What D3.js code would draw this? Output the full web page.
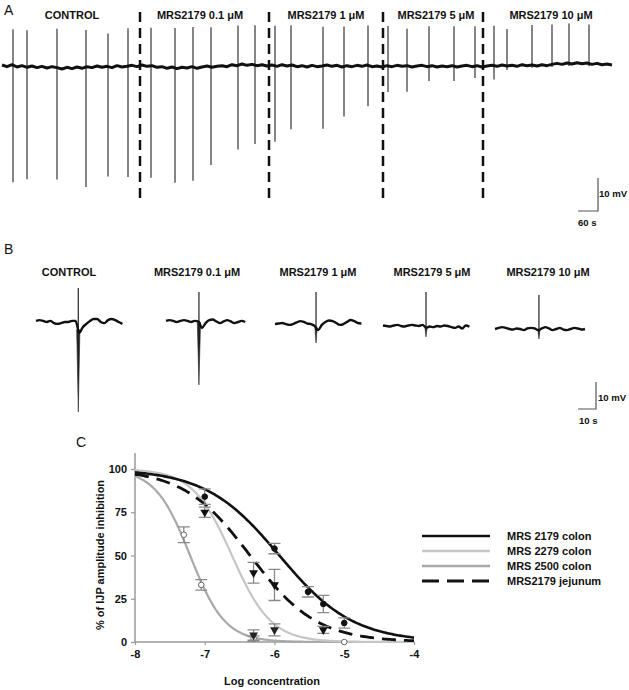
<!DOCTYPE html>
<html><head><meta charset="utf-8">
<script src="https://cdn.jsdelivr.net/npm/d3@7"></script>
<style>body{margin:0;background:#fff} text{font-family:"Liberation Sans",Arial,sans-serif}</style>
</head><body><svg id="c" width="629" height="690"></svg>
<script>
// ---------------- DATA ----------------
const conditionLabels = ["CONTROL","MRS2179 0.1 \u03bcM","MRS2179 1 \u03bcM","MRS2179 5 \u03bcM","MRS2179 10 \u03bcM"];
// Panel A: continuous recording, baseline (mV) every 15 s
const baselineA = [0.3,-0.2,0.4,-0.3,0.1,-0.4,0.0,-0.5,-0.1,-0.6,-0.2,-0.5,-0.9,-0.4,-0.8,-0.3,-0.7,-0.2,-0.5,0.0,
 -0.4,-0.1,-0.5,0.1,-0.3,-0.1,0.2,-0.2,0.3,-0.1,0.1,-0.4,-0.2,-0.7,-0.3,-0.8,-0.4,-0.6,-0.2,-0.7,
 -0.3,0.0,-0.4,-0.1,0.1,-0.2,0.4,0.1,0.6,0.2,0.5,0.1,0.4,0.0,0.3,-0.1,0.4,0.0,0.3,-0.2,
 0.1,-0.3,0.2,-0.2,0.0,0.3,-0.1,0.2,-0.3,0.1,-0.2,0.2,-0.1,0.3,-0.2,0.0,-0.3,0.1,-0.2,0.2,
 -0.1,0.1,-0.3,0.0,0.2,-0.2,0.1,-0.3,0.0,-0.2,0.1,-0.3,0.0,0.2,-0.2,0.1,-0.3,0.0,0.2,-0.1,
 0.3,0.0,0.2,-0.1,0.4,0.1,0.3,0.0,0.4,0.1,0.5,0.8,0.5,0.9,0.6,1.0,0.7,0.9,0.5,0.8,
 0.4,0.6,0.3];
const spikeTimesA = [33,75,165,252,318,378,447,519,573,627,708,759,819,867,963,1026,1098,1158,1215,1281,1356,1419,1476,1515,1590,1650,1701,1761];
const spikeUpA = [10.9,11.2,11.8,11.2,10.0,11.5,11.5,12.1,12.1,12.1,12.1,12.1,12.1,12.1,11.8,12.1,12.1,12.1,11.2,12.1,12.1,12.1,12.1,11.2,12.1,12.1,12.1,11.8];
const spikeDownA = [35.5,33.9,33.9,36.4,33.3,33.6,33.9,34.8,34.5,29.7,25.5,23.9,23.0,19.4,19.1,15.2,12.4,7.9,7.9,4.5,4.5,3.6,4.2,1.2,0.8,0.8,0.8,0.8];
const drugOnsetA = [414,801,1143,1443];
// Panel B: single IJPs, mV every 2 s
const traceB = [
 [0.4,0.7,0.4,0,0.4,-0.4,-0.7,-0.4,0,0,0.4,0.4,-4,-1.9,-0.7,0.4,1.1,1.1,0,-0.4,0.7,1.1,0.7,0,-0.7],
 [0.4,0.7,0.4,0,0.4,0.7,0.4,0,0.4,0.2,-2.2,-0.4,0.7,0.9,0.2,-0.4,0.2,0.7,0.2,-0.4,0,0.4,0],
 [-0.4,-0.2,0,-0.4,-0.7,-0.4,0.2,0.7,0.4,-0.2,-0.4,-1.1,-2.6,-0.7,0.4,0.9,0.7,0,-0.7,-0.4,0.4,1.1,0.7,0,-0.2],
 [0.2,0,-0.2,0.2,0.4,0,-0.2,0.2,0.4,0.2,0,0.4,-0.6,-0.2,-0.4,0,-0.2,0.2,0,-0.4,-0.7,-0.2,-0.9,0.2,-0.2],
 [0,0.4,0.7,0.4,0,-0.2,0.2,0,-0.4,0.2,0.4,0.2,-0.4,0.2,0.7,0.2,-0.4,0,0.4,-0.2,-0.4,0,0.4,0.2,-0.2,0]
];
const spikeTimeB = [23.5,18.3,22.8,23.9,24.4];
const spikeUpB = [12.6,11.1,11.5,12.6,12.6];
const spikeDownB = [-33.3,-23.3,-7.4,-4.0,-3.7];
// Panel C: concentration-response
const logTicks = [-8,-7,-6,-5,-4];
const pctTicks = [0,25,50,75,100];
const seriesNames = ["MRS 2179 colon","MRS 2279 colon","MRS 2500 colon","MRS2179 jejunum"];
const fitLogIC50 = [-5.93,-6.61,-7.21,-6.35];
const fitHill = [0.82,1.54,1.73,0.91];
const colon2179X = [-7,-6,-5.52,-5.3,-5], colon2179Y = [84,54,29,22,11], colon2179E = [4.5,3,3,5,3];
const colon2279X = [-6.3,-6], colon2279Y = [4,7], colon2279E = [3,3.5];
const colon2500X = [-7.3,-7.05,-6.3,-5], colon2500Y = [62,33,2,0], colon2500E = [4.5,3,1.5,0];
const jejunumX = [-7,-6.3,-6,-5.3], jejunumY = [75,40,33,7], jejunumE = [3,6,9,2];

// ---------------- STYLE / LAYOUT ----------------
const svg = d3.select("#c");
const FONT = "Liberation Sans, Arial, sans-serif";
function label(x,y,t,opt={}) {
  return svg.append("text").attr("x",x).attr("y",y).text(t)
    .attr("font-size",opt.size||11).attr("font-weight",opt.weight||"bold")
    .attr("text-anchor",opt.anchor||"middle").attr("fill","#111");
}

// ---- Panel A ----
label(4,15,"A",{size:14,weight:"normal",anchor:"start"});
const xA = d3.scaleLinear().domain([0,1830]).range([2,612]);
const yA = d3.scaleLinear().domain([0,10]).range([66,33]);
const labelXA = [72,200,326,436,551];
conditionLabels.forEach((t,i)=>label(labelXA[i],19,t));
const baseA = d3.line().x((d,i)=>xA(i*15)).y(d=>yA(d));
function baseAt(t){const i=t/15, i0=Math.floor(i), f=i-i0; const a=baselineA[i0]||0, b=baselineA[i0+1]??a; return a+(b-a)*f;}
svg.append("g").selectAll("line").data(spikeTimesA).join("line")
  .attr("x1",d=>xA(d)).attr("x2",d=>xA(d))
  .attr("y1",(d,i)=>yA(baseAt(d)+spikeUpA[i]))
  .attr("y2",(d,i)=>yA(baseAt(d)-spikeDownA[i]))
  .attr("stroke","#444").attr("stroke-width",1.3);
svg.append("path").datum(baselineA).attr("d",baseA).attr("fill","none")
  .attr("stroke","#111").attr("stroke-width",3).attr("stroke-linejoin","round");
svg.append("g").selectAll("line").data(drugOnsetA).join("line")
  .attr("x1",d=>xA(d)).attr("x2",d=>xA(d)).attr("y1",12).attr("y2",200)
  .attr("stroke","#111").attr("stroke-width",2.5).attr("stroke-dasharray","10,6");
// scale bar A
{
  const x0=598, y0=211;
  svg.append("path").attr("d",`M${x0-(xA(60)-xA(0))},${y0}H${x0}V${y0-(yA(0)-yA(10))}`)
    .attr("fill","none").attr("stroke","#555").attr("stroke-width",1.2);
  label(599,197,"10 mV",{size:9.6,anchor:"start"});
  label(578,226,"60 s",{size:9.6,anchor:"start"});
}

// ---- Panel B ----
label(4,254,"B",{size:14,weight:"normal",anchor:"start"});
const labelXB = [69,197,318,432,548];
conditionLabels.forEach((t,i)=>label(labelXB[i],276,t));
const xB = d3.scaleLinear().domain([0,10]).range([0,18]);
const yB = d3.scaleLinear().domain([0,10]).range([0,-27]);
const snipOrigin = [[36,322],[166,322],[275,323],[383,326],[495,329]];
traceB.forEach((tr,k)=>{
  const [ox,oy] = snipOrigin[k];
  const g = svg.append("g").attr("transform",`translate(${ox},${oy})`);
  const ts = spikeTimeB[k];
  const i0 = Math.floor(ts/2), f=(ts/2)-i0;
  const bv = tr[i0]+(tr[i0+1]-tr[i0])*f;
  g.append("line").attr("x1",xB(ts)).attr("x2",xB(ts)).attr("y1",yB(bv)).attr("y2",yB(spikeUpB[k]))
    .attr("stroke","#333").attr("stroke-width",1.3);
  const w = k<2?1.6:1.1;
  g.append("path").attr("d",`M${xB(ts)-w},${yB(bv)}L${xB(ts)+w},${yB(bv)}L${xB(ts)},${yB(spikeDownB[k])}Z`)
    .attr("fill","#222").attr("stroke","#222").attr("stroke-width",0.6);
  g.append("path").datum(tr).attr("d",d3.line().x((d,i)=>xB(i*2)).y(d=>yB(d)).curve(d3.curveMonotoneX))
    .attr("fill","none").attr("stroke","#111").attr("stroke-width",2.4).attr("stroke-linejoin","round");
});
{
  const x0=596, y0=409;
  svg.append("path").attr("d",`M${x0-(xB(10)-xB(0))},${y0}H${x0}V${y0+yB(10)}`)
    .attr("fill","none").attr("stroke","#555").attr("stroke-width",1.2);
  label(598,401,"10 mV",{size:9.6,anchor:"start"});
  label(579,424,"10 s",{size:9.6,anchor:"start"});
}

// ---- Panel C ----
label(76,447,"C",{size:14,weight:"normal",anchor:"start"});
const xC = d3.scaleLinear().domain([-8,-4]).range([135,414]);
const yC = d3.scaleLinear().domain([0,100]).range([642,469]);
const axisCol = "#9a9a9a";
const gy = svg.append("g").attr("transform","translate(135,0)")
  .call(d3.axisLeft(yC).tickValues(pctTicks).tickSize(4).tickPadding(4).tickFormat(d=>String(d)));
const gx = svg.append("g").attr("transform","translate(0,642)")
  .call(d3.axisBottom(xC).tickValues(logTicks).tickSize(3).tickPadding(5).tickFormat(d=>String(d)));
[gx,gy].forEach(g=>{
  g.select(".domain").remove();
  g.selectAll(".tick line").attr("stroke",axisCol).attr("stroke-width",1.2);
  g.selectAll(".tick text").attr("font-size",11).attr("font-weight","bold").attr("fill","#111").attr("font-family",FONT);
});
svg.append("line").attr("x1",135).attr("x2",135).attr("y1",yC(100)-16).attr("y2",yC(0))
  .attr("stroke",axisCol).attr("stroke-width",1.5);
svg.append("line").attr("x1",135).attr("x2",xC(-4)).attr("y1",yC(0)).attr("y2",yC(0))
  .attr("stroke",axisCol).attr("stroke-width",1.5);
label(272,685,"Log concentration");
svg.append("text").attr("transform","translate(104,555) rotate(-90)").attr("text-anchor","middle")
  .attr("font-size",11).attr("font-weight","bold").attr("fill","#111").text("% of IJP amplitude inhibition");

const seriesColor = ["#111","#c6c6c6","#a9a9a9","#111"];
const seriesWidth = [2.6,2.2,2.2,2.8];
const seriesDash = [null,null,null,"14,8"];
const xs = d3.range(-8,-3.995,0.02);
const curveLine = d3.line().x(d=>xC(d[0])).y(d=>yC(d[1]));
[2,1,0,3].forEach(k=>{
  const pts = xs.map(x=>[x,100/(1+Math.pow(10,(x-fitLogIC50[k])*fitHill[k]))]);
  svg.append("path").datum(pts).attr("d",curveLine).attr("fill","none")
    .attr("stroke",seriesColor[k]).attr("stroke-width",seriesWidth[k])
    .attr("stroke-dasharray",seriesDash[k]);
});
const pointSets = [
  {X:colon2500X,Y:colon2500Y,E:colon2500E,shape:"circle",fill:"#fff",stroke:"#666"},
  {X:colon2279X,Y:colon2279Y,E:colon2279E,shape:"tri",fill:"#222",stroke:"#222"},
  {X:jejunumX,Y:jejunumY,E:jejunumE,shape:"tri",fill:"#111",stroke:"#111"},
  {X:colon2179X,Y:colon2179Y,E:colon2179E,shape:"circle",fill:"#111",stroke:"#111"}
];
const ebCol = "#8a8a8a";
pointSets.forEach(s=>{
  const g = svg.append("g");
  s.X.forEach((x,i)=>{
    const cx=xC(x), e=s.E[i];
    if(e>0){
      const yt=yC(s.Y[i]+e), yb=yC(s.Y[i]-e);
      g.append("path").attr("d",`M${cx},${yt}V${yb}M${cx-6},${yt}H${cx+6}M${cx-6},${yb}H${cx+6}`)
        .attr("stroke",ebCol).attr("stroke-width",1.3).attr("fill","none");
    }
  });
  s.X.forEach((x,i)=>{
    const cx=xC(x), cy=yC(s.Y[i]);
    if(s.shape==="circle"){
      g.append("circle").attr("cx",cx).attr("cy",cy).attr("r",2.8).attr("fill",s.fill).attr("stroke",s.stroke).attr("stroke-width",1);
    } else {
      g.append("path").attr("d",d3.symbol(d3.symbolTriangle,34)()).attr("transform",`translate(${cx},${cy}) rotate(180)`)
        .attr("fill",s.fill);
    }
  });
});
// legend
const legY = [536,551,566,581];
seriesNames.forEach((n,k)=>{
  svg.append("line").attr("x1",422).attr("x2",490).attr("y1",legY[k]).attr("y2",legY[k])
    .attr("stroke",seriesColor[k]).attr("stroke-width",k===3?2.8:2.4)
    .attr("stroke-dasharray",k===3?"17,8":null);
  label(507,legY[k]+4,n,{anchor:"start"});
});
</script></body></html>
